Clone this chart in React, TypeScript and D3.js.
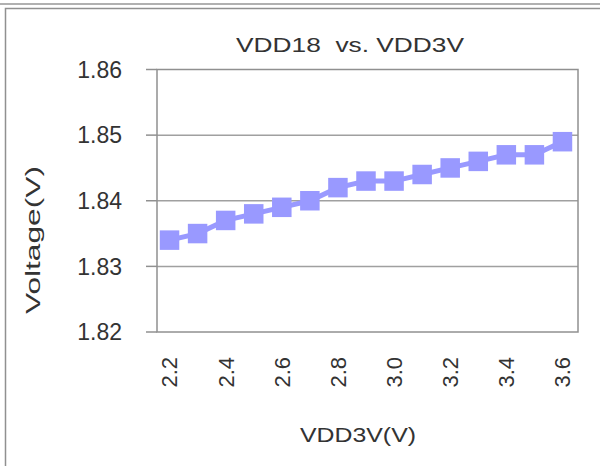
import React from "react";
import * as d3 from "d3";

const categories = ["2.2","2.3","2.4","2.5","2.6","2.7","2.8","2.9","3.0","3.1","3.2","3.3","3.4","3.5","3.6"];
const vdd18 = [1.834,1.835,1.837,1.838,1.839,1.840,1.842,1.843,1.843,1.844,1.845,1.846,1.847,1.847,1.849];
const yTicks = [1.82,1.83,1.84,1.85,1.86];
const xLabelsShown = ["2.2","2.4","2.6","2.8","3.0","3.2","3.4","3.6"];

const W = 600, H = 466;
const plot = { left: 157, right: 578, top: 69.5, bottom: 332 };
const FONT = "'Liberation Sans', Arial, sans-serif";
const COLOR = "#9999FF";
const TXT = "#333";

export default function App() {
  const x = d3.scaleBand<string>().domain(categories).range([plot.left - 1.5, plot.right - 1.5]).padding(0);
  const y = d3.scaleLinear().domain([1.82, 1.86]).range([plot.bottom, plot.top]);
  const line = d3.line<number>()
    .x((_, i) => (x(categories[i]) as number) + x.bandwidth() / 2)
    .y((d) => y(d));
  const ms = 19.5;
  return (
    <svg width={W} height={H} style={{ position: "absolute", left: 0, top: 0, background: "#fff" }}>
      <rect x={0} y={0} width={W} height={H} fill="#fff" />
      <line x1={0} x2={W} y1={4} y2={4} stroke="#b0b0b0" strokeWidth={2} />
      <path d={`M5.5,${H} V8.5 H${W}`} fill="none" stroke="#909090" strokeWidth={1.5} />
      <text x={350} y={52} textAnchor="middle" fontFamily={FONT} fontSize={20} fill={TXT} textLength={228} lengthAdjust="spacingAndGlyphs" style={{ whiteSpace: "pre" }}>VDD18  vs. VDD3V</text>
      {yTicks.map((t) => (
        <g key={t}>
          {t !== 1.82 && t !== 1.86 && (
            <line x1={plot.left} x2={plot.right} y1={y(t)} y2={y(t)} stroke="#a0a0a0" strokeWidth={1.5} />
          )}
          <line x1={146} x2={plot.left} y1={y(t)} y2={y(t)} stroke="#909090" strokeWidth={1.5} />
          <text x={122} y={y(t)} dy="0.36em" textAnchor="end" fontFamily={FONT} fontSize={23} fill={TXT}>{t.toFixed(2)}</text>
        </g>
      ))}
      <rect x={plot.left} y={plot.top} width={plot.right - plot.left} height={plot.bottom - plot.top} fill="none" stroke="#909090" strokeWidth={1.5} />
      <path d={line(vdd18) || ""} fill="none" stroke={COLOR} strokeWidth={5} />
      {vdd18.map((v, i) => (
        <rect key={i} x={(x(categories[i]) as number) + x.bandwidth() / 2 - ms / 2} y={y(v) - ms / 2} width={ms} height={ms} fill={COLOR} />
      ))}
      {xLabelsShown.map((c) => {
        const cx = (x(c) as number) + x.bandwidth() / 2;
        return (
          <text key={c} transform={`translate(${cx},357) rotate(-90)`} textAnchor="end" dy="0.36em" fontFamily={FONT} fontSize={22} fill={TXT}>{c}</text>
        );
      })}
      <text transform={`translate(40,240) rotate(-90)`} textAnchor="middle" fontFamily={FONT} fontSize={21} fill={TXT} textLength={148} lengthAdjust="spacingAndGlyphs">Voltage(V)</text>
      <text x={358} y={442} textAnchor="middle" fontFamily={FONT} fontSize={21} fill={TXT} textLength={116} lengthAdjust="spacingAndGlyphs">VDD3V(V)</text>
    </svg>
  );
}
